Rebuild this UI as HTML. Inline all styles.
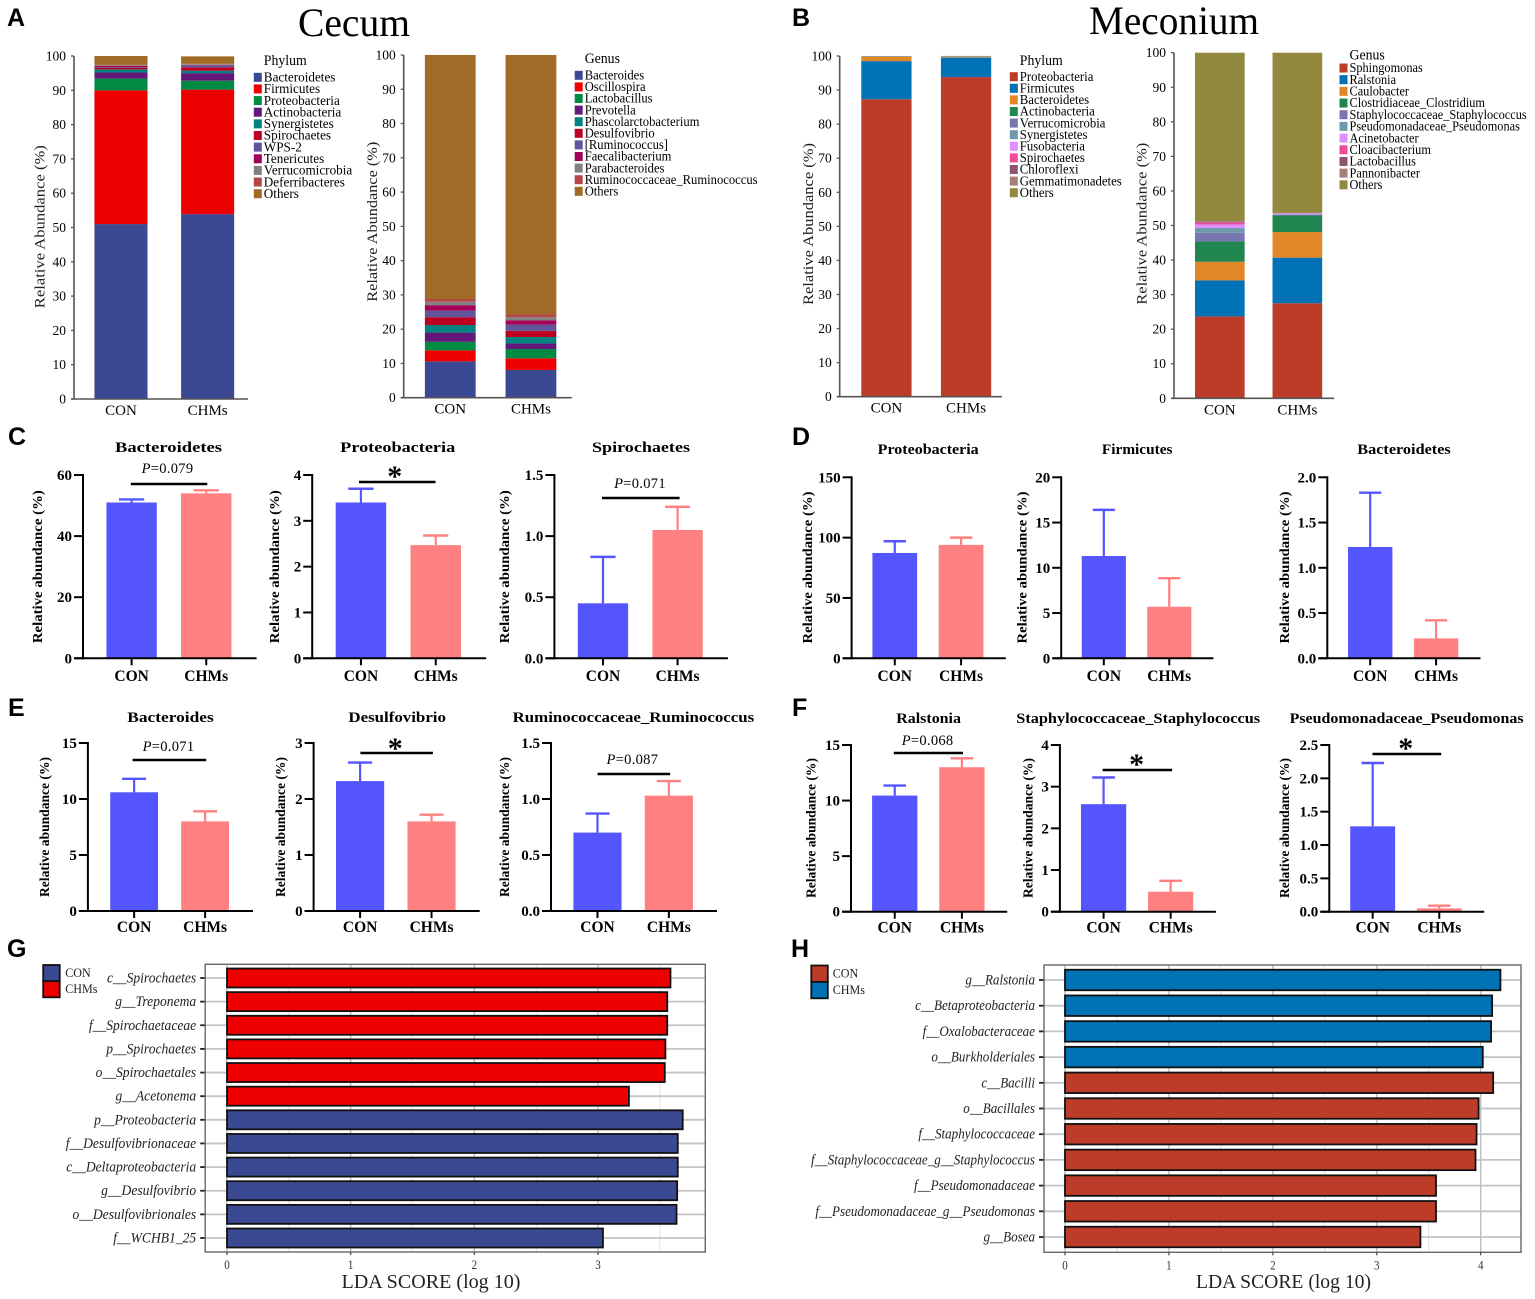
<!DOCTYPE html>
<html lang="en">
<head>
<meta charset="utf-8">
<title>Cecum and Meconium microbiota composition</title>
<style>
html,body{margin:0;padding:0;background:#fff;}
#figure{display:block;width:1535px;height:1299px;background:#fff;font-family:"Liberation Serif",serif;}
.letter{font-family:"Liberation Sans",sans-serif;font-weight:700;font-size:25px;fill:#000;}
</style>
</head>
<body>
<svg id="figure" xmlns="http://www.w3.org/2000/svg" width="1535" height="1299" viewBox="0 0 1535 1299">
  <text class="letter" x="7" y="26">A</text>
  <text class="letter" x="792" y="26">B</text>
  <text class="letter" x="8" y="445">C</text>
  <text class="letter" x="792" y="445">D</text>
  <text class="letter" x="8" y="716">E</text>
  <text class="letter" x="792" y="716">F</text>
  <text class="letter" x="7" y="957">G</text>
  <text class="letter" x="791" y="957">H</text>
  <text x="354" y="36" text-anchor="middle" font-size="40" textLength="112" lengthAdjust="spacingAndGlyphs">Cecum</text>
  <text x="1174" y="34" text-anchor="middle" font-size="40" textLength="170" lengthAdjust="spacingAndGlyphs">Meconium</text>
  <g id="stack-layer"></g>
  <g id="bar-layer"></g>
  <g id="lda-layer"></g>
</svg>
<script>
/* ---------- DATA ---------- */
const groups = ['CON', 'CHMs'];
const abundanceTicks = [0, 10, 20, 30, 40, 50, 60, 70, 80, 90, 100];

const cecumPhylumNames = ['Bacteroidetes','Firmicutes','Proteobacteria','Actinobacteria','Synergistetes','Spirochaetes','WPS-2','Tenericutes','Verrucomicrobia','Deferribacteres','Others'];
const cecumPhylumCon = [51, 39, 3.4, 1.8, 0.9, 0.4, 0.2, 0.4, 0.2, 0.1, 2.6];
const cecumPhylumChms = [53.9, 36.3, 2.6, 2.2, 0.7, 1.0, 0.6, 0.1, 0.2, 0.1, 2.2];

const cecumGenusNames = ['Bacteroides','Oscillospira','Lactobacillus','Prevotella','Phascolarctobacterium','Desulfovibrio','[Ruminococcus]','Faecalibacterium','Parabacteroides','Ruminococcaceae_Ruminococcus','Others'];
const cecumGenusCon = [10.6, 3.2, 2.5, 2.7, 2.2, 2.3, 1.9, 1.6, 1.0, 0.8, 71.2];
const cecumGenusChms = [8.1, 3.4, 2.7, 1.6, 1.9, 1.8, 1.8, 1.3, 0.9, 0.9, 75.6];

const meconiumPhylumNames = ['Proteobacteria','Firmicutes','Bacteroidetes','Actinobacteria','Verrucomicrobia','Synergistetes','Fusobacteria','Spirochaetes','Chloroflexi','Gemmatimonadetes','Others'];
const meconiumPhylumCon = [87.3, 11.2, 1.2, 0.05, 0.02, 0.02, 0.02, 0.02, 0.02, 0.02, 0.13];
const meconiumPhylumChms = [93.8, 5.7, 0.15, 0.1, 0.02, 0.02, 0.02, 0.02, 0.02, 0.02, 0.15];

const meconiumGenusNames = ['Sphingomonas','Ralstonia','Caulobacter','Clostridiaceae_Clostridium','Staphylococcaceae_Staphylococcus','Pseudomonadaceae_Pseudomonas','Acinetobacter','Cloacibacterium','Lactobacillus','Pannonibacter','Others'];
const meconiumGenusCon = [23.7, 10.4, 5.4, 5.9, 2.5, 1.4, 1.0, 0.6, 0.2, 0.2, 48.7];
const meconiumGenusChms = [27.5, 13.2, 7.4, 4.8, 0.2, 0.1, 0.3, 0.05, 0.05, 0.05, 46.35];

const c1Means = [51, 54];     const c1ErrTops = [52, 55];      const c1Ticks = ['0','20','40','60'];
const c2Means = [3.4, 2.47];  const c2ErrTops = [3.7, 2.68];   const c2Ticks = ['0','1','2','3','4'];
const c3Means = [0.45, 1.05]; const c3ErrTops = [0.83, 1.24];  const c3Ticks = ['0.0','0.5','1.0','1.5'];
const d1Means = [87.3, 94];   const d1ErrTops = [97, 100];     const d1Ticks = ['0','50','100','150'];
const d2Means = [11.3, 5.7];  const d2ErrTops = [16.4, 8.85];  const d2Ticks = ['0','5','10','15','20'];
const d3Means = [1.23, 0.22]; const d3ErrTops = [1.83, 0.42];  const d3Ticks = ['0.0','0.5','1.0','1.5','2.0'];
const e1Means = [10.6, 8.0];  const e1ErrTops = [11.8, 8.9];   const e1Ticks = ['0','5','10','15'];
const e2Means = [2.32, 1.6];  const e2ErrTops = [2.65, 1.72];  const e2Ticks = ['0','1','2','3'];
const e3Means = [0.7, 1.03];  const e3ErrTops = [0.87, 1.16];  const e3Ticks = ['0.0','0.5','1.0','1.5'];
const f1Means = [10.45, 13];  const f1ErrTops = [11.35, 13.8]; const f1Ticks = ['0','5','10','15'];
const f2Means = [2.58, 0.48]; const f2ErrTops = [3.22, 0.74];  const f2Ticks = ['0','1','2','3','4'];
const f3Means = [1.28, 0.05]; const f3ErrTops = [2.23, 0.09];  const f3Ticks = ['0.0','0.5','1.0','1.5','2.0','2.5'];

const ldaCecumTaxa = ['c__Spirochaetes','g__Treponema','f__Spirochaetaceae','p__Spirochaetes','o__Spirochaetales','g__Acetonema','p__Proteobacteria','f__Desulfovibrionaceae','c__Deltaproteobacteria','g__Desulfovibrio','o__Desulfovibrionales','f__WCHB1_25'];
const ldaCecumScores = [3.586, 3.56, 3.56, 3.545, 3.54, 3.25, 3.685, 3.645, 3.645, 3.64, 3.635, 3.04];
const ldaCecumGroups = [1, 1, 1, 1, 1, 1, 0, 0, 0, 0, 0, 0];
const ldaCecumTicks = [0, 1, 2, 3];

const ldaMeconiumTaxa = ['g__Ralstonia','c__Betaproteobacteria','f__Oxalobacteraceae','o__Burkholderiales','c__Bacilli','o__Bacillales','f__Staphylococcaceae','f__Staphylococcaceae_g__Staphylococcus','f__Pseudomonadaceae','f__Pseudomonadaceae_g__Pseudomonas','g__Bosea'];
const ldaMeconiumScores = [4.19, 4.11, 4.10, 4.02, 4.12, 3.98, 3.96, 3.95, 3.57, 3.57, 3.42];
const ldaMeconiumGroups = [1, 1, 1, 1, 0, 0, 0, 0, 0, 0, 0];
const ldaMeconiumTicks = [0, 1, 2, 3, 4];

/* ---------- COLOURS ---------- */
const cecumPalette = ['#3B4992','#EE0000','#008B45','#631879','#008280','#BB0021','#5F559B','#A20056','#808180','#B24745','#9F6B26'];
const meconiumPalette = ['#BC3C29','#0072B5','#E18727','#20854E','#7876B1','#6F99AD','#DF8FFF','#EE4C97','#8C5770','#A5807A','#92893E'];

/* ---------- DRAW HELPERS ---------- */
const NS = 'http://www.w3.org/2000/svg';
function node(parent, tag, attrs) {
  const el = document.createElementNS(NS, tag);
  for (const k in attrs) el.setAttribute(k, attrs[k]);
  parent.appendChild(el);
  return el;
}
function line(parent, x1, y1, x2, y2, stroke, width) {
  return node(parent, 'line', {x1, y1, x2, y2, stroke, 'stroke-width': width});
}
function box(parent, x, y, w, h, fill) {
  return node(parent, 'rect', {x, y, width: w, height: h, fill});
}
function label(parent, str, x, y, opts) {
  const o = opts || {};
  const a = {x, y, 'font-size': o.size || 13, 'text-anchor': o.anchor || 'start', fill: o.fill || '#000'};
  if (o.weight) a['font-weight'] = o.weight;
  if (o.italic) a['font-style'] = 'italic';
  if (o.len) { a.textLength = o.len; a.lengthAdjust = 'spacingAndGlyphs'; }
  if (o.rot) a.transform = 'rotate(-90 ' + x + ' ' + y + ')';
  const el = node(parent, 'text', a);
  el.textContent = str;
  if (o.squeeze) {
    el.setAttribute('textLength', el.getComputedTextLength() * o.squeeze);
    el.setAttribute('lengthAdjust', 'spacingAndGlyphs');
  }
  return el;
}
function linear(d0, d1, r0, r1) {
  return v => r0 + (v - d0) / (d1 - d0) * (r1 - r0);
}

/* ---------- STACKED COMPOSITION PANELS ---------- */
function drawStack(cfg, names, conVals, chmsVals, palette, legendTitle) {
  const g = node(document.getElementById('stack-layer'), 'g', {});
  
  
  const y = linear(0, 100, cfg.y0, cfg.yt);
  const x = i => cfg.xl + (cfg.xr - cfg.xl) * cfg.centers[i];
  const bw = (cfg.xr - cfg.xl) * cfg.bw;
  [conVals, chmsVals].forEach((vals, gi) => {
    let acc = 0;
    vals.forEach((v, si) => {
      const seg = box(g, x(gi) - bw / 2, y(acc + v), bw, y(acc) - y(acc + v), palette[si]);
      
      
      acc += v;
    });
    const cat = label(g, groups[gi], x(gi), cfg.y0 + 16, {size: 15, anchor: 'middle'});
    
    
  });
  const yAxis = line(g, cfg.xl, cfg.yt, cfg.xl, cfg.y0, '#555', 1.6);
  
  
  const xAxis = line(g, cfg.xl - 3, cfg.y0, cfg.xr, cfg.y0, '#555', 1.6);
  
  
  abundanceTicks.forEach(t => {
    const tk = line(g, cfg.xl - 3, y(t), cfg.xl, y(t), '#555', 1.3);
    
    
    const tl = label(g, String(t), cfg.xl - 8, y(t) + 4.5, {size: 13.5, anchor: 'end'});
    
    
  });
  const yt = label(g, 'Relative Abundance (%)', cfg.ylx, cfg.yly, {size: 14.5, anchor: 'middle', rot: true, len: cfg.yll, fill: '#222'});
  
  
  const lt = label(g, legendTitle, cfg.lx + 10, cfg.ltY, {size: 15, squeeze: 0.92});
  
  
  names.forEach((n, i) => {
    const ey = cfg.lY + i * cfg.lStep;
    const sw = box(g, cfg.lx, ey - 4.5, 8, 9, palette[i]);
    
    
    const tx = label(g, n, cfg.lx + 10, ey + 4.2, {size: 14, squeeze: cfg.sq});
    
    
  });
}
drawStack({xl:74,xr:248,y0:399,yt:56,centers:[.27,.768],bw:.305,ylx:44.7,yly:226.7,yll:163,lx:253.8,ltY:65,lY:77.3,lStep:11.64,sq:.94},
  cecumPhylumNames, cecumPhylumCon, cecumPhylumChms, cecumPalette, 'Phylum');
drawStack({xl:403.7,xr:571.8,y0:397.7,yt:55,centers:[.277,.757],bw:.302,ylx:376.9,yly:221.7,yll:160,lx:574.7,ltY:63,lY:75.3,lStep:11.6,sq:.9},
  cecumGenusNames, cecumGenusCon, cecumGenusChms, cecumPalette, 'Genus');
drawStack({xl:839.7,xr:1001.9,y0:396.7,yt:56,centers:[.288,.779],bw:.31,ylx:812.8,yly:224,yll:162,lx:1009.8,ltY:65,lY:76.7,lStep:11.6,sq:.91},
  meconiumPhylumNames, meconiumPhylumCon, meconiumPhylumChms, meconiumPalette, 'Phylum');
drawStack({xl:1174,xr:1334.2,y0:398.3,yt:52.7,centers:[.286,.77],bw:.31,ylx:1146.7,yly:223.7,yll:162,lx:1339.5,ltY:59.6,lY:68,lStep:11.68,sq:.88},
  meconiumGenusNames, meconiumGenusCon, meconiumGenusChms, meconiumPalette, 'Genus');

/* ---------- MEAN ± SD BAR PANELS ---------- */
const barColors = ['#5555FF', '#FF8080'];
function drawBars(cfg, title, means, errTops, ticks) {
  const g = node(document.getElementById('bar-layer'), 'g', {});
  
  
  const maxV = parseFloat(ticks[ticks.length - 1]);
  const y = linear(0, maxV, cfg.y0, cfg.yt);
  const w = cfg.xr - cfg.xl;
  const x = i => cfg.xl + w * (0.28 + 0.43 * i);
  const bw = w * 0.29;
  means.forEach((m, i) => {
    const err = line(g, x(i), y(m), x(i), y(errTops[i]), barColors[i], 2.2);
    
    
    const cap = line(g, x(i) - bw / 4, y(errTops[i]), x(i) + bw / 4, y(errTops[i]), barColors[i], 2.4);
    
    
    const bar = box(g, x(i) - bw / 2, y(m), bw, y(0) - y(m), barColors[i]);
    
    
    const tk = line(g, x(i), cfg.y0, x(i), cfg.y0 + 7, '#000', 2);
    
    
    const cat = label(g, groups[i], x(i), cfg.catY, {size: 15.5, weight: 700, anchor: 'middle'});
    
    
  });
  const yAxis = line(g, cfg.xl, cfg.yt - 1, cfg.xl, cfg.y0 + 1, '#000', 2);
  
  
  const xAxis = line(g, cfg.xl - 9, cfg.y0, cfg.xr, cfg.y0, '#000', 2);
  
  
  ticks.forEach(t => {
    const v = parseFloat(t);
    const tk = line(g, cfg.xl - 9, y(v), cfg.xl, y(v), '#000', 2);
    
    
    const tl = label(g, t, cfg.xl - 11, y(v) + 5, {size: 15, weight: 700, anchor: 'end'});
    
    
  });
  const yt = label(g, 'Relative abundance (%)', cfg.ylx + 5, cfg.yly, {size: 14, weight: 700, anchor: 'middle', rot: true, len: cfg.yll});
  
  
  const tt = label(g, title, cfg.tx, cfg.ty, {size: 15, weight: 700, anchor: 'middle', len: cfg.tw});
  
  
  if (cfg.sig) {
    const s = cfg.sig;
    const sb = line(g, s.x1, s.y, s.x2, s.y, '#000', 2.6);
    
    
    if (s.p) {
      const pv = node(g, 'text', {x: s.cx, y: s.ty, 'font-size': 14.5, 'text-anchor': 'middle', 'letter-spacing': 0.3});
      
      
      const pi = node(pv, 'tspan', {'font-style': 'italic'});
      pi.textContent = 'P';
      const pr = node(pv, 'tspan', {});
      pr.textContent = '=' + s.p;
    } else {
      const st = label(g, '*', s.cx, s.ty, {size: 30, weight: 700, anchor: 'middle'});
      
      
    }
  }
}
const cRow = {y0:658.3, yt:475, catY:681, ty:452, yly:566.7, yll:153};
const dRow = {y0:658.3, yt:477.3, catY:681, ty:454, yly:567.5, yll:152};
const eRow = {y0:911, yt:743, catY:932, ty:722, yly:827, yll:140};
const fRow = {y0:911.7, yt:745, catY:932.7, ty:723, yly:828, yll:140};

drawBars({...cRow,xl:83,xr:256.6,ylx:36.8,tx:168.5,tw:107,sig:{x1:130.8,x2:207.3,y:484,cx:167.5,ty:473,p:'0.079'}}, 'Bacteroidetes', c1Means, c1ErrTops, c1Ticks);
drawBars({...cRow,xl:312.2,xr:486.2,ylx:273.8,tx:397.7,tw:115,sig:{x1:359,x2:435.5,y:482,cx:394.8,ty:486}}, 'Proteobacteria', c2Means, c2ErrTops, c2Ticks);
drawBars({...cRow,xl:554.4,xr:727.9,ylx:504,tx:641,tw:98,sig:{x1:602,x2:679.6,y:498,cx:640,ty:488,p:'0.071'}}, 'Spirochaetes', c3Means, c3ErrTops, c3Ticks);

drawBars({...dRow,xl:851.6,xr:1005.8,ylx:806.8,tx:928.2,tw:101}, 'Proteobacteria', d1Means, d1ErrTops, d1Ticks);
drawBars({...dRow,xl:1061.2,xr:1213.4,ylx:1021.3,tx:1137.2,tw:70.5}, 'Firmicutes', d2Means, d2ErrTops, d2Ticks);
drawBars({...dRow,xl:1327.3,xr:1480.5,ylx:1284,tx:1404,tw:93.5}, 'Bacteroidetes', d3Means, d3ErrTops, d3Ticks);

drawBars({...eRow,xl:87.9,xr:253,ylx:43.8,tx:170.5,tw:86.5,sig:{x1:132.6,x2:206.2,y:760,cx:168.5,ty:751,p:'0.071'}}, 'Bacteroides', e1Means, e1ErrTops, e1Ticks);
drawBars({...eRow,xl:313.6,xr:479.7,ylx:279.8,tx:397.2,tw:97.5,sig:{x1:360.4,x2:432.9,y:753,cx:395.2,ty:758}}, 'Desulfovibrio', e2Means, e2ErrTops, e2Ticks);
drawBars({...eRow,xl:551,xr:717,ylx:504.2,tx:633.4,tw:241.5,sig:{x1:597.6,x2:670.2,y:774,cx:632.4,ty:764,p:'0.087'}}, 'Ruminococcaceae_Ruminococcus', e3Means, e3ErrTops, e3Ticks);

drawBars({...fRow,xl:851,xr:1007.2,ylx:810.5,tx:928.6,tw:64.7,sig:{x1:893.8,x2:963,y:753,cx:927.6,ty:745,p:'0.068'}}, 'Ralstonia', f1Means, f1ErrTops, f1Ticks);
drawBars({...fRow,xl:1059.9,xr:1215.9,ylx:1027.4,tx:1138.2,tw:243.8,sig:{x1:1102.6,x2:1172.1,y:770,cx:1136.6,ty:774}}, 'Staphylococcaceae_Staphylococcus', f2Means, f2ErrTops, f2Ticks);
drawBars({...fRow,xl:1329.3,xr:1484.2,ylx:1284,tx:1406.6,tw:234,sig:{x1:1372.5,x2:1441.2,y:754,cx:1405.8,ty:758}}, 'Pseudomonadaceae_Pseudomonas', f3Means, f3ErrTops, f3Ticks);

/* ---------- LDA PANELS ---------- */
function drawLda(cfg, taxa, scores, memberships, ticks, colors) {
  const g = node(document.getElementById('lda-layer'), 'g', {});
  
  
  const x = linear(0, ticks[ticks.length - 1], cfg.x0, cfg.xMaxTick);
  const step = (cfg.rowLast - cfg.rowFirst) / (taxa.length - 1);
  const rowY = i => cfg.rowFirst + i * step;
  const bg = box(g, cfg.left, cfg.top, cfg.right - cfg.left, cfg.bottom - cfg.top, '#fff');
  
  
  for (let v = 0; x(v) < cfg.right; v += 0.5) {
    const major = Number.isInteger(v);
    const vg = line(g, x(v), cfg.top, x(v), cfg.bottom, major ? '#bdbdbd' : '#d8d8d8', major ? 1.4 : 0.8);
    
    
  }
  taxa.forEach((t, i) => {
    const hg = line(g, cfg.left, rowY(i), cfg.right, rowY(i), '#c4c4c4', 1.8);
    
    
    const bar = box(g, x(0), rowY(i) - cfg.barH / 2, x(scores[i]) - x(0), cfg.barH, colors[memberships[i]]);
    bar.setAttribute('stroke', '#111');
    bar.setAttribute('stroke-width', '1.8');
    
    
    const tk = line(g, cfg.left - 5, rowY(i), cfg.left, rowY(i), '#222', 1.8);
    
    
    const lb = label(g, t, cfg.left - 9, rowY(i) + 4.5, {size: 15, italic: true, anchor: 'end', fill: '#222', squeeze: cfg.sq});
    
    
  });
  const frame = box(g, cfg.left, cfg.top, cfg.right - cfg.left, cfg.bottom - cfg.top, 'none');
  frame.setAttribute('stroke', '#666');
  frame.setAttribute('stroke-width', '1.4');
  
  
  ticks.forEach(t => {
    const tk = line(g, x(t), cfg.bottom, x(t), cfg.bottom + 3, '#444', 1.2);
    
    
    const tl = label(g, String(t), x(t), cfg.bottom + 17, {size: 13, anchor: 'middle', fill: '#333', squeeze: 0.85});
    
    
  });
  const xt = label(g, 'LDA SCORE (log 10)', cfg.xtX, 1288, {size: 20, anchor: 'middle', len: cfg.xtW, fill: '#222'});
  
  
  groups.forEach((name, i) => {
    const sh = (cfg.lBottom - cfg.lTop) / 2;
    const sw = box(g, cfg.lLeft, cfg.lTop + i * sh, cfg.lWidth, sh, colors[i]);
    sw.setAttribute('stroke', '#111');
    sw.setAttribute('stroke-width', '1.8');
    
    
    const tx = label(g, name, cfg.lText, cfg.lTop + 12 + i * sh, {size: 13, fill: '#222', squeeze: 0.93});
    
    
  });
}
drawLda({left:205.2,right:705.3,top:964.3,bottom:1252,x0:227,xMaxTick:598,rowFirst:978,rowLast:1238,barH:19,xtX:431,xtW:179,lLeft:43.2,lWidth:16.5,lTop:965,lBottom:997.3,lText:65.2,sq:.905},
  ldaCecumTaxa, ldaCecumScores, ldaCecumGroups, ldaCecumTicks, ['#3B4992', '#EE0000']);
drawLda({left:1044,right:1521,top:965,bottom:1252.3,x0:1065,xMaxTick:1480.7,rowFirst:980,rowLast:1237,barH:20.5,xtX:1283.5,xtW:175,lLeft:811.3,lWidth:16.5,lTop:965.5,lBottom:998.3,lText:832.7,sq:.87},
  ldaMeconiumTaxa, ldaMeconiumScores, ldaMeconiumGroups, ldaMeconiumTicks, ['#BC3C29', '#0072B5']);
</script>
</body>
</html>
